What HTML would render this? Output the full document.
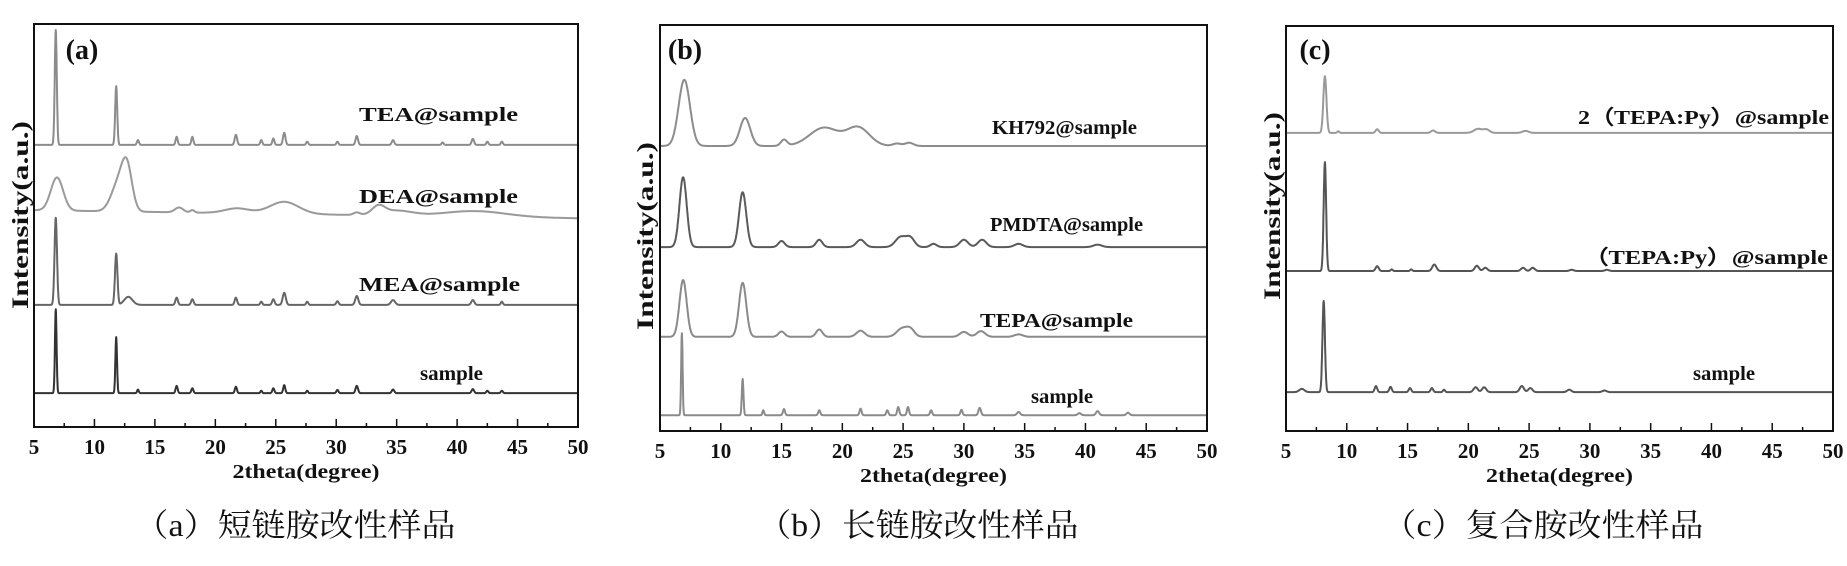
<!DOCTYPE html>
<html><head><meta charset="utf-8"><style>
html,body{margin:0;padding:0;background:#fff;}
svg{display:block;}
.tk{font-family:"Liberation Serif",serif;font-weight:bold;font-size:21px;fill:#111;}
.lb{font-family:"Liberation Serif",serif;font-weight:bold;font-size:20px;fill:#111;}
.cap{font-family:"Liberation Serif","Noto Serif CJK SC",serif;font-size:32px;fill:#111;}
</style></head><body>
<svg id="chart" width="1847" height="566" viewBox="0 0 1847 566" xmlns="http://www.w3.org/2000/svg"></svg>
<script>
const xTicks = [5,10,15,20,25,30,35,40,45,50];
const panelIds = ["a","b","c"];
const panelCaptions = ["（a）短链胺改性样品","（b）长链胺改性样品","（c）复合胺改性样品"];
const aNames = ["TEA@sample","DEA@sample","MEA@sample","sample"];
const bNames = ["KH792@sample","PMDTA@sample","TEPA@sample","sample"];
const cNames = ["2（TEPA:Py）@sample","（TEPA:Py）@sample","sample"];
const aBaseStart = [70, 53.8, 30.3, 8.4];
const aBaseEnd   = [70, 51.8, 30.3, 8.4];
const bBaseStart = [70.2, 45.3, 23.2, 3.9];
const bBaseEnd   = [70.2, 45.3, 23.2, 3.9];
const cBaseStart = [73.6, 39.5, 9.6];
const cBaseEnd   = [73.6, 39.5, 9.6];
const aTEA = [[6.8,28.5,0.1],[11.8,14.6,0.1],[13.6,1.2,0.1],[16.8,2,0.1],[18.1,2,0.1],[21.7,2.5,0.12],[23.8,1.2,0.1],[24.8,1.6,0.1],[25.7,3,0.12],[27.6,0.8,0.1],[30.1,0.8,0.1],[31.7,2.2,0.12],[34.7,1.2,0.12],[38.8,0.6,0.1],[41.3,1.5,0.12],[42.5,0.8,0.1],[43.7,0.8,0.1]];
const aDEA = [[6.9,8.2,0.6],[12.0,7,0.7],[12.7,9.5,0.5],[17.0,1.2,0.4],[18.1,0.6,0.2],[21.8,1.2,1.2],[25.7,3,1.4],[31.7,0.6,0.3],[33.5,2,0.6],[35,1.2,1.5],[41.5,1.4,3]];
const aMEA = [[6.8,21.6,0.12],[11.8,12.7,0.12],[12.8,2,0.4],[16.8,1.8,0.12],[18.1,1.4,0.12],[21.7,1.8,0.12],[23.8,0.8,0.1],[24.8,1.4,0.12],[25.7,3,0.15],[27.6,0.8,0.1],[30.1,0.9,0.12],[31.7,2.2,0.15],[34.7,1.2,0.2],[41.3,1.2,0.15],[43.7,0.8,0.1]];
const aSample = [[6.8,20.8,0.08],[11.8,13.9,0.08],[13.6,0.9,0.08],[16.8,1.8,0.1],[18.1,1.2,0.1],[21.7,1.6,0.1],[23.8,0.6,0.08],[24.8,1.2,0.1],[25.7,2,0.1],[27.6,0.6,0.08],[30.1,0.8,0.1],[31.7,1.8,0.12],[34.7,0.9,0.12],[41.3,1,0.12],[42.5,0.6,0.1],[43.7,0.6,0.1]];
const bKH = [[7.0,16.3,0.55],[12.0,6.9,0.5],[15.2,1.5,0.3],[18.5,4.5,1.4],[21.3,4.5,1.1],[24.5,0.6,0.4],[25.5,0.8,0.4]];
const bPMDTA = [[6.9,17.2,0.35],[11.8,13.5,0.35],[15.0,1.5,0.3],[18.1,1.8,0.3],[21.5,1.8,0.4],[24.8,2.5,0.5],[25.6,2.2,0.4],[27.5,0.8,0.3],[30.0,1.8,0.4],[31.5,1.8,0.4],[34.5,0.8,0.4],[41,0.6,0.4]];
const bTEPA = [[6.9,14,0.35],[11.8,13.3,0.35],[15.0,1.3,0.3],[18.1,1.8,0.3],[21.5,1.5,0.4],[24.9,2,0.5],[25.6,1.8,0.4],[30.0,1.2,0.4],[31.4,1.4,0.4],[34.5,0.6,0.4]];
const bSample = [[6.8,20.2,0.07],[11.8,8.9,0.08],[13.5,1.2,0.08],[15.2,1.5,0.1],[18.1,1.2,0.1],[21.5,1.6,0.1],[23.7,1.2,0.1],[24.6,2,0.1],[25.4,2,0.1],[27.3,1.2,0.1],[29.8,1.3,0.1],[31.3,1.8,0.12],[34.5,0.8,0.15],[39.5,0.5,0.15],[41,1,0.15],[43.5,0.6,0.15]];
const cTop = [[8.2,14,0.15],[9.3,0.4,0.1],[12.5,0.9,0.15],[17.1,0.6,0.2],[20.8,1,0.4],[21.5,0.8,0.3],[24.7,0.5,0.3]];
const cMid = [[8.2,26.9,0.12],[12.5,1.2,0.15],[13.7,0.4,0.1],[15.3,0.4,0.1],[17.2,1.6,0.2],[20.7,1.3,0.2],[21.4,0.8,0.2],[24.5,0.8,0.2],[25.3,0.8,0.2],[28.5,0.3,0.2],[31.4,0.3,0.2]];
const cSample = [[6.3,0.8,0.25],[8.1,22.5,0.12],[12.4,1.5,0.12],[13.6,1.3,0.12],[15.2,1,0.12],[17.0,1,0.12],[18.0,0.6,0.1],[20.6,1.2,0.2],[21.3,1.2,0.2],[24.4,1.5,0.2],[25.1,1,0.2],[28.3,0.6,0.2],[31.2,0.4,0.2]];

const NS = "http://www.w3.org/2000/svg";
const svg = document.getElementById("chart");
function mk(tag, attrs, parent){const e=document.createElementNS(NS,tag);for(const k in attrs)e.setAttribute(k,attrs[k]);(parent||svg).appendChild(e);return e;}

const panels = [
 {id:"a",x0:34,x1:578,y0:24,y1:427,names:aNames,bs:aBaseStart,be:aBaseEnd,peaks:[aTEA,aDEA,aMEA,aSample],colors:["#8c8c8c","#9a9a9a","#666","#333"],
  labels:[[359,121,159],[359,203,159],[359,291,161],[420,380,63]],tag:[82,59],yt:[20,215]},
 {id:"b",x0:660,x1:1207,y0:25,y1:431,names:bNames,bs:bBaseStart,be:bBaseEnd,peaks:[bKH,bPMDTA,bTEPA,bSample],colors:["#8c8c8c","#5a5a5a","#8a8a8a","#8a8a8a"],
  labels:[[992,134,145],[990,231,153],[980,327,153],[1031,403,62]],tag:[685,59],yt:[645,236]},
 {id:"c",x0:1286,x1:1833,y0:26,y1:431,names:cNames,bs:cBaseStart,be:cBaseEnd,peaks:[cTop,cMid,cSample],colors:["#9a9a9a","#555","#555"],
  labels:[[1578,124,251],[1584,264,244],[1693,380,62]],tag:[1315,59],yt:[1272,206]}
];
const capX = [295,918,1543];

panels.forEach((p,pi)=>{
  const g = mk("g",{});
  
  
  const xs = v => p.x0 + (v-5)/45*(p.x1-p.x0);
  const ys = v => p.y1 - v/100*(p.y1-p.y0);
  p.peaks.forEach((pk,si)=>{
    let d="";
    for(let x=5;x<=50.0001;x+=0.02){
      let v = p.bs[si] + (p.be[si]-p.bs[si])*(x-5)/45;
      pk.forEach(q=>{const t=(x-q[0])/q[2];v+=q[1]*Math.exp(-0.693*t*t);});
      d += (d?"L":"M")+xs(x).toFixed(1)+","+ys(v).toFixed(1);
    }
    const path = mk("path",{d:d,fill:"none",stroke:p.colors[si],"stroke-width":2,"stroke-linejoin":"round"},g);
    
    
    const L=p.labels[si];
    const t = mk("text",{x:L[0],y:L[1],class:"lb",textLength:L[2],lengthAdjust:"spacingAndGlyphs"},g);
    t.textContent=p.names[si];
    
    
  });
  const r = mk("rect",{x:p.x0,y:p.y0,width:p.x1-p.x0,height:p.y1-p.y0,fill:"none",stroke:"#111","stroke-width":2},g);
  
  
  for(let v=5;v<=50;v+=2.5){
    const major = (v%5===0);
    const tl = mk("line",{x1:xs(v),x2:xs(v),y1:p.y1,y2:p.y1-(major?8:4),stroke:"#111","stroke-width":1.5},g);
    
    
  }
  xTicks.forEach(v=>{
    const t = mk("text",{x:xs(v),y:p.y1+27,class:"tk","text-anchor":"middle"},g);
    t.textContent=String(v);
    
    
  });
  const xt = mk("text",{x:(p.x0+p.x1)/2,y:p.y1+51,class:"lb","text-anchor":"middle",textLength:147,lengthAdjust:"spacingAndGlyphs"},g);
  xt.textContent="2theta(degree)";
  
  
  const yt = mk("text",{x:0,y:0,class:"lb",style:"font-size:23px","text-anchor":"middle",textLength:188,lengthAdjust:"spacingAndGlyphs",transform:"translate("+(p.yt[0]+8)+","+p.yt[1]+") rotate(-90)"},g);
  yt.textContent="Intensity(a.u.)";
  
  
  const tg = mk("text",{x:p.tag[0],y:p.tag[1],class:"lb",style:"font-size:28px","text-anchor":"middle"},g);
  tg.textContent="("+p.id+")";
  
  
  const cp = mk("text",{x:capX[pi],y:536,class:"cap","text-anchor":"middle",textLength:321,lengthAdjust:"spacingAndGlyphs"},g);
  cp.textContent=panelCaptions[pi];
  
  
});
</script>
</body></html>
